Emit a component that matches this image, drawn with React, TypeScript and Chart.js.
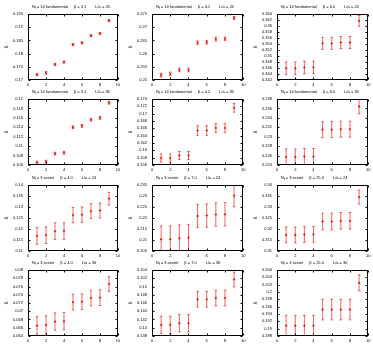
import { useEffect, useRef } from "react";
import { Chart, registerables } from "chart.js";

Chart.register(...registerables);

const RED = "rgb(225, 0, 0)";
const BAR = "rgba(225, 0, 0, 0.75)";
const FONT = "'Liberation Sans', Arial, sans-serif";

// step index along the horizontal axis
const steps = [1, 2, 3, 4, 5, 6, 7, 8, 9];

// N_f = 14 fundamental, L/a = 24
const fund24b31 = [0.172, 0.1727, 0.1759, 0.1768, 0.1834, 0.1841, 0.1868, 0.1876, 0.1925];
const fund24b31Err = [0.0004, 0.0005, 0.0004, 0.0004, 0.0004, 0.0004, 0.0004, 0.0004, 0.0004];
const fund24b42 = [0.2518, 0.2523, 0.2538, 0.2538, 0.2641, 0.2643, 0.2655, 0.2656, 0.2735];
const fund24b42Err = [0.0007, 0.0007, 0.0007, 0.0007, 0.0007, 0.0007, 0.0007, 0.0007, 0.0006];
const fund24b60 = [0.3459, 0.3459, 0.3462, 0.3462, 0.3542, 0.3542, 0.3545, 0.3545, 0.3617];
const fund24b60Err = [0.0021, 0.0021, 0.0021, 0.0021, 0.002, 0.002, 0.002, 0.002, 0.0018];

// N_f = 14 fundamental, L/a = 36
const fund36b31 = [0.1065, 0.1067, 0.1084, 0.1086, 0.114, 0.1143, 0.1156, 0.116, 0.1192];
const fund36b31Err = [0.0003, 0.0003, 0.0003, 0.0003, 0.0003, 0.0003, 0.0003, 0.0003, 0.0003];
const fund36b42 = [0.1579, 0.1579, 0.1586, 0.1586, 0.1654, 0.1654, 0.1661, 0.1661, 0.1716];
const fund36b42Err = [0.0011, 0.0011, 0.0011, 0.0011, 0.0013, 0.0013, 0.0012, 0.0012, 0.0012];
const fund36b60 = [0.2257, 0.2257, 0.2258, 0.2258, 0.2315, 0.2315, 0.2316, 0.2316, 0.2364];
const fund36b60Err = [0.0017, 0.0017, 0.0017, 0.0017, 0.0017, 0.0017, 0.0017, 0.0017, 0.0015];

// N_f = 3 sextet, L/a = 24
const sext24b40 = [0.1169, 0.1172, 0.119, 0.1191, 0.1263, 0.1265, 0.1281, 0.1284, 0.1338];
const sext24b40Err = [0.0038, 0.0038, 0.0038, 0.0038, 0.0035, 0.0035, 0.0034, 0.0034, 0.0029];
const sext24b70 = [0.2103, 0.2103, 0.2108, 0.211, 0.2209, 0.2211, 0.2216, 0.2217, 0.2301];
const sext24b70Err = [0.0061, 0.0061, 0.0061, 0.0061, 0.0053, 0.0053, 0.0053, 0.0053, 0.005];
const sext24b250 = [0.3173, 0.3173, 0.3175, 0.3176, 0.3234, 0.3234, 0.3237, 0.3237, 0.3345];
const sext24b250Err = [0.0036, 0.0036, 0.0036, 0.0036, 0.0038, 0.0038, 0.0038, 0.0038, 0.0032];

// N_f = 3 sextet, L/a = 36
const sext36b40 = [0.0665, 0.0667, 0.0675, 0.0676, 0.0722, 0.0723, 0.0732, 0.0733, 0.0766];
const sext36b40Err = [0.0022, 0.0022, 0.0021, 0.0021, 0.0019, 0.0019, 0.0019, 0.0019, 0.0018];
const sext36b70 = [0.1407, 0.1407, 0.1411, 0.1411, 0.1469, 0.1469, 0.1472, 0.1472, 0.1517];
const sext36b70Err = [0.0021, 0.0021, 0.0021, 0.0021, 0.0019, 0.0019, 0.0019, 0.0019, 0.0018];
const sext36b250 = [0.1908, 0.1908, 0.1908, 0.1908, 0.1952, 0.1952, 0.1952, 0.1952, 0.2025];
const sext36b250Err = [0.0028, 0.0028, 0.0028, 0.0028, 0.0028, 0.0028, 0.0028, 0.0028, 0.0022];

// panel headings
const flavourLabels = ["14 fundamental", "14 fundamental", "3 sextet", "3 sextet"];
const boxLabels = ["24", "36", "24", "36"];
const betaLabels = [
  ["3.1", "4.2", "6.0"],
  ["3.1", "4.2", "6.0"],
  ["4.0", "7.0", "25.0"],
  ["4.0", "7.0", "25.0"],
];
const yAxisSymbols = ["λ", "λ", "λ", "λ"];

// y-axis ranges: [min, max, step]
const yRanges = [
  [[0.17, 0.195, 0.005], [0.25, 0.275, 0.005], [0.342, 0.364, 0.002]],
  [[0.106, 0.12, 0.002], [0.156, 0.174, 0.002], [0.224, 0.238, 0.002]],
  [[0.11, 0.14, 0.005], [0.205, 0.235, 0.005], [0.31, 0.34, 0.005]],
  [[0.064, 0.08, 0.002], [0.138, 0.154, 0.002], [0.188, 0.206, 0.002]],
];

const values = [
  [fund24b31, fund24b42, fund24b60],
  [fund36b31, fund36b42, fund36b60],
  [sext24b40, sext24b70, sext24b250],
  [sext36b40, sext36b70, sext36b250],
];
const errors = [
  [fund24b31Err, fund24b42Err, fund24b60Err],
  [fund36b31Err, fund36b42Err, fund36b60Err],
  [sext24b40Err, sext24b70Err, sext24b250Err],
  [sext36b40Err, sext36b70Err, sext36b250Err],
];

const CANVAS_W = 124;
const CANVAS_H = 87;
const colLeft = [0, 124, 249];
const colRightPad = [6, 4, 4];
const rowTop = [1, 86, 172, 257];

const fmt = (v: number) => String(+Number(v).toFixed(4));

// Draws error bars, the plot frame with inward ticks, the heading and y symbol.
const panelDecor = {
  id: "panelDecor",
  afterDatasetsDraw(chart: any, _args: any, opts: any) {
    const { ctx, chartArea: a, scales } = chart;
    const pts = chart.data.datasets[0].data;
    ctx.save();
    ctx.beginPath();
    ctx.rect(a.left, a.top, a.right - a.left, a.bottom - a.top);
    ctx.clip();
    ctx.strokeStyle = BAR;
    ctx.lineWidth = 0.8;
    pts.forEach((p: any, i: number) => {
      const x = scales.x.getPixelForValue(p.x);
      const lo = scales.y.getPixelForValue(p.y - opts.errors[i]);
      const hi = scales.y.getPixelForValue(p.y + opts.errors[i]);
      ctx.beginPath();
      ctx.moveTo(x, lo);
      ctx.lineTo(x, hi);
      ctx.moveTo(x - 1.3, lo);
      ctx.lineTo(x + 1.3, lo);
      ctx.moveTo(x - 1.3, hi);
      ctx.lineTo(x + 1.3, hi);
      ctx.stroke();
    });
    ctx.restore();
  },
  afterDraw(chart: any, _args: any, opts: any) {
    const { ctx, chartArea: a, scales } = chart;
    ctx.save();
    ctx.strokeStyle = "#000";
    ctx.lineWidth = 1;
    const L = Math.round(a.left) + 0.5;
    const R = Math.round(a.right) - 0.5;
    const T = Math.round(a.top) + 0.5;
    const B = Math.round(a.bottom) - 0.5;
    ctx.strokeRect(L, T, R - L, B - T);
    ctx.beginPath();
    scales.x.ticks.forEach((t: any) => {
      const x = Math.round(scales.x.getPixelForValue(t.value)) + 0.5;
      ctx.moveTo(x, B);
      ctx.lineTo(x, B - 2);
      ctx.moveTo(x, T);
      ctx.lineTo(x, T + 2);
    });
    scales.y.ticks.forEach((t: any) => {
      const y = Math.round(scales.y.getPixelForValue(t.value)) + 0.5;
      ctx.moveTo(L, y);
      ctx.lineTo(L + 2, y);
      ctx.moveTo(R, y);
      ctx.lineTo(R - 2, y);
    });
    ctx.stroke();

    // heading: N_f = ...   β = ...   L/a = ...
    ctx.fillStyle = "#000";
    ctx.textBaseline = "middle";
    ctx.textAlign = "left";
    const ty = a.top - 7;
    let x = a.left + 4;
    ctx.font = `4px ${FONT}`;
    ctx.fillText("N", x, ty);
    x += ctx.measureText("N").width;
    ctx.font = `3px ${FONT}`;
    ctx.fillText("f", x, ty + 1.2);
    x += ctx.measureText("f").width;
    ctx.font = `4px ${FONT}`;
    const part1 = ` = ${opts.flavour}`;
    ctx.fillText(part1, x, ty);
    x += ctx.measureText(part1).width + 6;
    const part2 = `β = ${opts.beta}`;
    ctx.fillText(part2, x, ty);
    x += ctx.measureText(part2).width + 9;
    ctx.fillText(`L/a = ${opts.box}`, x, ty);

    // y symbol
    ctx.font = `5px ${FONT}`;
    ctx.translate(7, (a.top + a.bottom) / 2);
    ctx.rotate(-Math.PI / 2);
    ctx.textAlign = "center";
    ctx.fillText(opts.symbol, 0, 0);
    ctx.restore();
  },
};

function Panel({ row, col }: { row: number; col: number }) {
  const ref = useRef<HTMLCanvasElement>(null);
  useEffect(() => {
    const ys = values[row][col];
    const [yMin, yMax, yStep] = yRanges[row][col];
    const chart = new Chart(ref.current!, {
      type: "scatter",
      data: {
        datasets: [
          {
            data: steps.map((s, i) => ({ x: s, y: ys[i] })),
            pointStyle: "cross",
            pointRadius: 1.2,
            borderColor: RED,
            backgroundColor: RED,
            borderWidth: 0.8,
          },
        ],
      },
      options: {
        animation: false,
        responsive: false,
        devicePixelRatio: 1,
        layout: { padding: { left: 0, right: colRightPad[col], top: 13, bottom: 0 } },
        plugins: {
          legend: { display: false },
          tooltip: { enabled: false },
          panelDecor: {
            errors: errors[row][col],
            flavour: flavourLabels[row],
            beta: betaLabels[row][col],
            box: boxLabels[row],
            symbol: yAxisSymbols[row],
          },
        } as any,
        scales: {
          x: {
            type: "linear",
            min: 0,
            max: 10,
            grid: { display: false, drawTicks: false },
            border: { display: false },
            ticks: {
              stepSize: 2,
              autoSkip: false,
              maxRotation: 0,
              padding: 2,
              color: "#000",
              font: { size: 4, family: FONT },
            },
            afterFit: (s: any) => {
              s.height = 8;
            },
          },
          y: {
            type: "linear",
            min: yMin,
            max: yMax,
            grid: { display: false, drawTicks: false },
            border: { display: false },
            ticks: {
              stepSize: yStep,
              autoSkip: false,
              padding: 5,
              color: "#000",
              font: { size: 4, family: FONT },
              callback: (v: any) => fmt(v),
            },
            afterFit: (s: any) => {
              s.width = 28;
            },
          },
        },
      },
      plugins: [panelDecor],
    });
    return () => chart.destroy();
  }, [row, col]);
  return (
    <canvas
      ref={ref}
      width={CANVAS_W}
      height={CANVAS_H}
      style={{
        position: "absolute",
        left: colLeft[col],
        top: rowTop[row],
        width: CANVAS_W,
        height: CANVAS_H,
      }}
    />
  );
}

export default function App() {
  const cells = [];
  for (let r = 0; r < 4; r++) {
    for (let c = 0; c < 3; c++) {
      cells.push(<Panel key={`${r}-${c}`} row={r} col={c} />);
    }
  }
  return (
    <div
      style={{
        position: "absolute",
        left: 0,
        top: 0,
        width: 373,
        height: 348,
        background: "#fff",
      }}
    >
      {cells}
    </div>
  );
}
